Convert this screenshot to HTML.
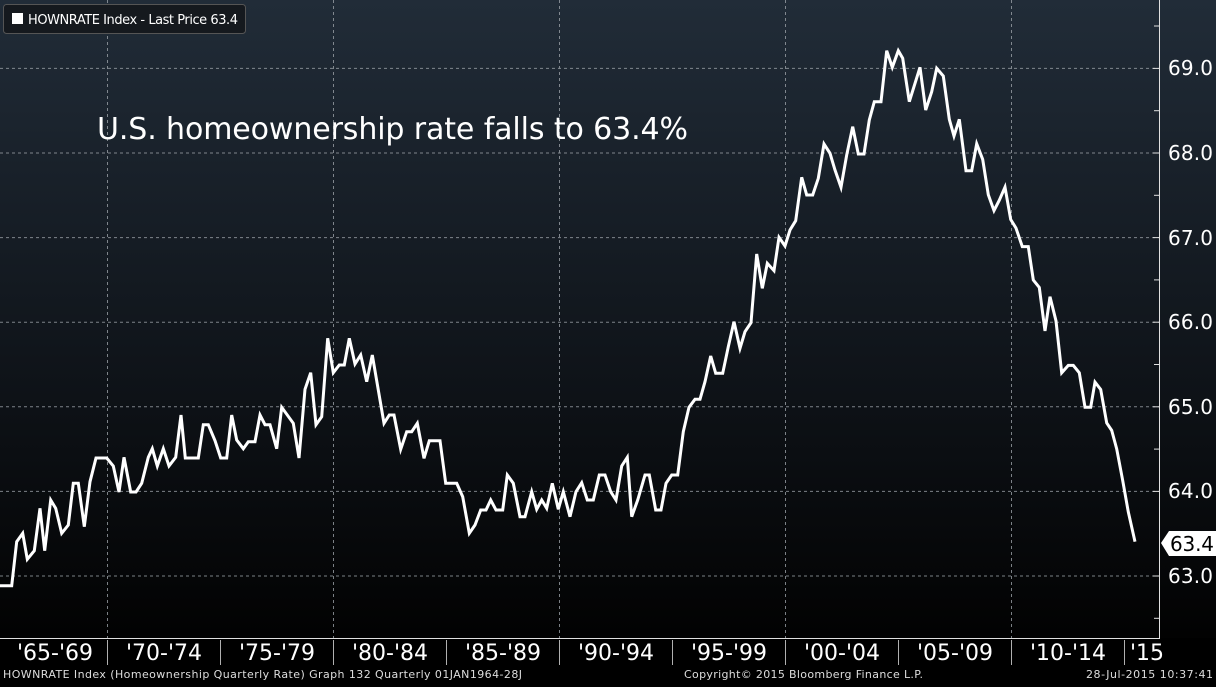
<!DOCTYPE html>
<html><head><meta charset="utf-8"><style>
html,body{margin:0;padding:0;background:#000;}
body{width:1216px;height:682px;overflow:hidden;}
</style></head><body>
<svg width="1216" height="682" viewBox="0 0 1216 682" xmlns="http://www.w3.org/2000/svg" font-family="'DejaVu Sans','Liberation Sans',sans-serif">
<defs><linearGradient id="bg" x1="0" y1="0" x2="0" y2="1">
<stop offset="0" stop-color="#212c38"/><stop offset="0.55" stop-color="#10151b"/><stop offset="1" stop-color="#020202"/></linearGradient></defs>
<rect x="0" y="0" width="1216" height="638" fill="url(#bg)"/>
<rect x="0" y="638" width="1216" height="44" fill="#000"/>
<g stroke="#9aa0a6" stroke-width="1" stroke-dasharray="3,3" opacity="0.8">
<line x1="0" y1="68.4" x2="1159" y2="68.4"/><line x1="0" y1="153" x2="1159" y2="153"/>
<line x1="0" y1="237.6" x2="1159" y2="237.6"/><line x1="0" y1="322.2" x2="1159" y2="322.2"/>
<line x1="0" y1="406.8" x2="1159" y2="406.8"/><line x1="0" y1="491.4" x2="1159" y2="491.4"/>
<line x1="0" y1="576" x2="1159" y2="576"/>
<line x1="107.5" y1="0" x2="107.5" y2="638"/><line x1="333.5" y1="0" x2="333.5" y2="638"/>
<line x1="559.5" y1="0" x2="559.5" y2="638"/><line x1="785.5" y1="0" x2="785.5" y2="638"/>
<line x1="1011.5" y1="0" x2="1011.5" y2="638"/>
</g>
<g stroke="#e0e0e0" stroke-width="1">
<line x1="1159.5" y1="0" x2="1159.5" y2="638"/><line x1="0" y1="638.5" x2="1160" y2="638.5"/>
<line x1="1153" y1="68.4" x2="1160" y2="68.4"/><line x1="1153" y1="153" x2="1160" y2="153"/>
<line x1="1153" y1="237.6" x2="1160" y2="237.6"/><line x1="1153" y1="322.2" x2="1160" y2="322.2"/>
<line x1="1153" y1="406.8" x2="1160" y2="406.8"/><line x1="1153" y1="491.4" x2="1160" y2="491.4"/>
<line x1="1153" y1="576" x2="1160" y2="576"/>
<line x1="1154" y1="26" x2="1160" y2="26"/><line x1="1154" y1="110.7" x2="1160" y2="110.7"/>
<line x1="1154" y1="195.3" x2="1160" y2="195.3"/><line x1="1154" y1="279.9" x2="1160" y2="279.9"/>
<line x1="1154" y1="364.5" x2="1160" y2="364.5"/><line x1="1154" y1="449.1" x2="1160" y2="449.1"/>
<line x1="1154" y1="618.3" x2="1160" y2="618.3"/>
</g>
<g stroke="#b0b0b0" stroke-width="1">
<line x1="107.5" y1="640" x2="107.5" y2="665"/><line x1="220.5" y1="640" x2="220.5" y2="665"/>
<line x1="333.5" y1="640" x2="333.5" y2="665"/><line x1="446.5" y1="640" x2="446.5" y2="665"/>
<line x1="559.5" y1="640" x2="559.5" y2="665"/><line x1="672.5" y1="640" x2="672.5" y2="665"/>
<line x1="785.5" y1="640" x2="785.5" y2="665"/><line x1="898.5" y1="640" x2="898.5" y2="665"/>
<line x1="1011.5" y1="640" x2="1011.5" y2="665"/><line x1="1124.5" y1="640" x2="1124.5" y2="665"/>
</g>
<g fill="#fff" font-size="20">
<text x="1168" y="75" textLength="45">69.0</text><text x="1168" y="160" textLength="45">68.0</text><text x="1168" y="245" textLength="45">67.0</text>
<text x="1168" y="329" textLength="45">66.0</text><text x="1168" y="414" textLength="45">65.0</text><text x="1168" y="498" textLength="45">64.0</text>
<text x="1168" y="583" textLength="45">63.0</text>
</g>
<path d="M1161,543 L1169,531 L1216,531 L1216,556 L1169,556 Z" fill="#fff"/>
<text x="1170" y="551" font-size="20" fill="#000" textLength="44">63.4</text>
<g fill="#fff" font-size="22" text-anchor="middle">
<text x="55" y="660">'65-'69</text><text x="164" y="660">'70-'74</text><text x="277" y="660">'75-'79</text>
<text x="390" y="660">'80-'84</text><text x="503" y="660">'85-'89</text><text x="616" y="660">'90-'94</text>
<text x="729" y="660">'95-'99</text><text x="842" y="660">'00-'04</text><text x="955" y="660">'05-'09</text>
<text x="1068" y="660">'10-'14</text><text x="1147" y="660">'15</text>
</g>
<text x="3" y="678" font-size="11" fill="#ddd" textLength="519">HOWNRATE Index (Homeownership Quarterly Rate) Graph 132  Quarterly 01JAN1964-28J</text>
<text x="684" y="678" font-size="11" fill="#ddd" textLength="239">Copyright© 2015 Bloomberg Finance L.P.</text>
<text x="1086" y="678" font-size="11" fill="#ddd" textLength="127">28-Jul-2015 10:37:41</text>
<rect x="3.5" y="4.5" width="242" height="29" rx="3" fill="#15191e" stroke="#555"/>
<rect x="12" y="13" width="11" height="11" fill="#fff"/>
<text x="28" y="24" font-size="13" fill="#fff" textLength="210">HOWNRATE Index - Last Price 63.4</text>
<text x="97" y="139" font-size="30" fill="#fff" textLength="591">U.S. homeownership rate falls to 63.4%</text>
<polyline fill="none" stroke="#fff" stroke-width="3" stroke-linejoin="miter" points="0,585.7 11.7,585.7 16.7,541.7 22.7,533.3 27.3,559.3 34.3,550.7 40,508.3 44.7,550.7 50.7,500 55.7,508.3 61.7,533.3 68.3,525 73.3,483.3 78.3,483.3 84.3,526.7 90,481.7 96,458 106.7,458 113.3,466 119,492 124,457.3 130.7,492 136,492 141.7,483.3 148.3,457.3 152.3,448.7 157.3,466 163.3,448.7 169,466 175.7,457.3 181,415 185.3,458 198.3,458 203.3,424.7 208.3,424.7 215,440.7 220.7,458 226.7,458 231.7,415 236.7,440 243.3,448.7 248.3,441.7 255,441.7 260,415 265,424.7 270,424.7 276.7,448.7 281.7,407.3 293.3,423.3 299,458 305,389.3 310.7,372.7 316,424.7 321.7,416.7 327.7,338.3 333.3,372.7 339.3,365 344.3,365 349.3,338.3 355,364 360.7,355 366.7,381.7 372.3,355 384,423.3 389.3,415 394,415 400.7,449.3 406.7,431.7 411.7,431.7 417.3,423.3 424,458.3 429.3,440.7 440,440.7 445.7,483.3 456.7,483.3 462.7,496.7 469.3,533.3 475,525 480.7,510 486,510 490.7,500 496,510 502.7,510 507.3,475 513.3,483.3 520,516.7 525,516.7 531.7,491.7 536.7,509.3 541.7,500 546.7,508.3 552.3,483.3 558.3,509.3 563.3,491.7 570,516.7 576,491.7 581.7,482.7 587.3,500 593.3,500 599.3,475 605,475 610.7,491.7 616,500 621.7,466 627.3,457.3 631.7,516.7 637.7,500 645,475 649.3,475 655.7,510 661,510 666,483.3 671.7,475 677.7,475 683.3,431.7 689,407.3 695,399.3 700,399.3 705,381.7 710.7,356 715.7,373.3 722.7,373.3 728.3,346.7 734,321.7 740,348.3 745,331.7 751,322.7 756.7,254 762.3,288.3 767.3,263.3 774,270.7 779,237.3 785,246 790,230 795.7,220.7 801.7,177.3 806.7,195 812.7,195 818.3,178.3 824,144 830,153.3 835,170 841,187.3 846.7,155 852.7,126.7 858.3,154 864,154 869.3,120 874.3,101.7 881,101.7 886.7,50.7 892.3,67.3 898.3,50.7 902.7,58.3 909.3,101.7 920,67.3 925.7,110 931.7,91.7 936.7,68.3 943.3,76 949.3,119.3 954,136 959.3,119.3 966,170.7 971.7,170.7 976.7,143.8 982.7,159.4 988.3,194.7 994,210.6 999.3,200.2 1005,187.2 1010.7,219.5 1016,228.1 1022.3,246.6 1028.3,246.6 1033.3,280 1039.3,287.5 1045,330.9 1050,296.7 1056,320.9 1061.7,372.8 1068.3,365.4 1073.3,365.4 1079.3,372.8 1085,407.3 1090.7,407.3 1095,382.1 1100.7,389.5 1106.7,422.9 1111.7,430.4 1116.7,448.9 1122.7,480.5 1128.3,512 1135,541.7"/>
</svg>
</body></html>
